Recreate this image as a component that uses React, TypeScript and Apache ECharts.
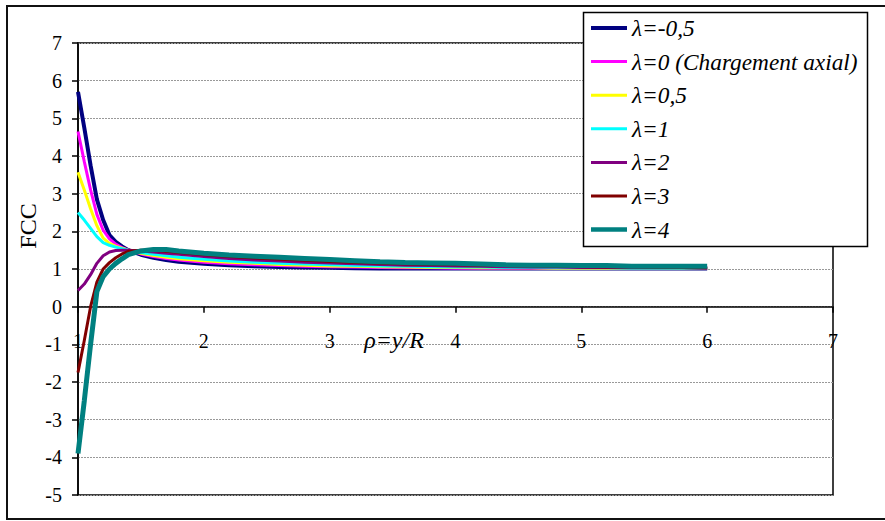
import React, { useEffect, useRef } from "react";
import * as echarts from "echarts";

const rho = [1, 1.05, 1.1, 1.15, 1.2, 1.25, 1.3, 1.35, 1.4, 1.5, 1.6, 1.7, 1.8, 2.0, 2.2, 2.4, 2.6, 2.8, 3.0, 3.2, 3.4, 3.6, 3.8, 4.0, 4.2, 4.4, 4.6, 4.8, 5.0, 5.2, 5.4, 5.6, 5.8, 6.0];

const seriesNames = [
  "λ=-0,5",
  "λ=0 (Chargement axial)",
  "λ=0,5",
  "λ=1",
  "λ=2",
  "λ=3",
  "λ=4",
];

const lamM05 = [5.7, 4.75, 3.75, 2.85, 2.3, 1.9, 1.72, 1.6, 1.5, 1.38, 1.3, 1.24, 1.19, 1.14, 1.1, 1.07, 1.05, 1.04, 1.03, 1.02, 1.01, 1.01, 1.01, 1.01, 1.01, 1.01, 1.01, 1.01, 1.01, 1.01, 1.01, 1.01, 1.01, 1.01];
const lam0 = [4.65, 3.85, 3.1, 2.45, 2.03, 1.8, 1.66, 1.57, 1.5, 1.4, 1.33, 1.28, 1.24, 1.18, 1.14, 1.11, 1.09, 1.07, 1.06, 1.05, 1.04, 1.03, 1.03, 1.02, 1.02, 1.02, 1.02, 1.01, 1.01, 1.01, 1.01, 1.01, 1.01, 1.01];
const lam05 = [3.57, 3.1, 2.6, 2.15, 1.82, 1.68, 1.6, 1.55, 1.5, 1.42, 1.36, 1.31, 1.27, 1.22, 1.18, 1.15, 1.12, 1.1, 1.08, 1.07, 1.06, 1.05, 1.04, 1.04, 1.03, 1.03, 1.03, 1.02, 1.02, 1.02, 1.02, 1.02, 1.01, 1.01];
const lam1 = [2.5, 2.3, 2.08, 1.86, 1.7, 1.63, 1.58, 1.54, 1.5, 1.44, 1.39, 1.35, 1.31, 1.26, 1.21, 1.18, 1.15, 1.13, 1.11, 1.09, 1.08, 1.07, 1.06, 1.05, 1.05, 1.04, 1.04, 1.03, 1.03, 1.03, 1.02, 1.02, 1.02, 1.02];
const lam2 = [0.43, 0.6, 0.85, 1.15, 1.35, 1.45, 1.49, 1.5, 1.5, 1.48, 1.45, 1.42, 1.39, 1.33, 1.28, 1.24, 1.21, 1.18, 1.16, 1.14, 1.12, 1.1, 1.09, 1.08, 1.07, 1.06, 1.05, 1.05, 1.04, 1.04, 1.03, 1.03, 1.03, 1.02];
const lam3 = [-1.75, -0.9, 0.0, 0.65, 1.0, 1.17, 1.3, 1.4, 1.47, 1.5, 1.49, 1.47, 1.44, 1.38, 1.33, 1.29, 1.26, 1.23, 1.2, 1.17, 1.15, 1.13, 1.12, 1.11, 1.1, 1.09, 1.08, 1.07, 1.06, 1.05, 1.05, 1.04, 1.04, 1.03];
const lam4 = [-3.9, -2.5, -1.0, 0.4, 0.8, 1.0, 1.15, 1.27, 1.38, 1.48, 1.52, 1.52, 1.48, 1.42, 1.37, 1.34, 1.31, 1.28, 1.25, 1.22, 1.19, 1.17, 1.16, 1.15, 1.13, 1.11, 1.1, 1.1, 1.09, 1.09, 1.07, 1.07, 1.07, 1.07];

const seriesValues = [lamM05, lam0, lam05, lam1, lam2, lam3, lam4];
const colors = ["#000080", "#FF00FF", "#FFFF00", "#00FFFF", "#800080", "#800000", "#008080"];
const widths = [4, 3, 3, 3, 3, 3, 5];

const xTickMin = 1;
const xTickMax = 7;
const yTickMin = -5;
const yTickMax = 7;

const FONT = "Liberation Serif";

const GRID_TOP = 43;
const GRID_BOTTOM_PX = 495;

export default function App() {
  const ref = useRef<HTMLDivElement>(null);
  useEffect(() => {
    if (!ref.current) return;
    const chart = echarts.init(ref.current, undefined, { renderer: "svg" });
    const zeroPx = GRID_TOP + ((yTickMax - 0) / (yTickMax - yTickMin)) * (GRID_BOTTOM_PX - GRID_TOP);
    const xOffset = -(GRID_BOTTOM_PX - zeroPx);
    const option: any = {
      animation: false,
      backgroundColor: "#fff",
      textStyle: { fontFamily: FONT },
      grid: {
        left: 78,
        right: 52,
        top: GRID_TOP,
        bottom: 521 - GRID_BOTTOM_PX,
        show: true,
        borderColor: "#000",
        borderWidth: 1.5,
        backgroundColor: "transparent",
      },
      xAxis: {
        type: "value",
        min: xTickMin,
        max: xTickMax,
        interval: 1,
        offset: xOffset,
        axisLine: { show: true, onZero: false, lineStyle: { color: "#000", width: 1.5 } },
        axisTick: { show: true, inside: false, length: 6, lineStyle: { color: "#000", width: 1.5 } },
        axisLabel: { margin: 24, color: "#000", fontSize: 20, fontFamily: FONT },
        splitLine: { show: false },
      },
      yAxis: {
        type: "value",
        min: yTickMin,
        max: yTickMax,
        interval: 1,
        axisLine: { show: true, onZero: false, lineStyle: { color: "#000", width: 1.5 } },
        axisTick: { show: true, inside: false, length: 6, lineStyle: { color: "#000", width: 1.5 } },
        axisLabel: { margin: 16, color: "#000", fontSize: 20, fontFamily: FONT },
        splitLine: { show: true, lineStyle: { color: "#999", type: [2, 1], width: 1 } },
      },
      legend: {
        orient: "vertical",
        left: 591,
        top: 16,
        padding: 0,
        itemWidth: 36,
        itemHeight: 12,
        itemGap: 9.6,
        z: 20,
        selectedMode: false,
        symbolKeepAspect: true,
        textStyle: {
          fontFamily: FONT,
          fontStyle: "italic",
          fontSize: 23.3,
          color: "#000",
          lineHeight: 24,
        },
        data: seriesNames.map((name, i) => ({
          name,
          icon: `path://M0,0H36V${widths[i] === 5 ? 4.5 : widths[i] === 4 ? 4 : 3}H0Z`,
          itemStyle: { color: colors[i] },
        })),
      },
      graphic: [
        {
          type: "rect",
          z: 0,
          shape: { x: 7, y: 6, width: 900, height: 513 },
          style: { fill: "none", stroke: "#111", lineWidth: 2 },
          silent: true,
        },
        {
          type: "rect",
          z: 10,
          shape: { x: 583.5, y: 12.5, width: 284, height: 234 },
          style: { fill: "#fff", stroke: "#000", lineWidth: 1.5 },
          silent: true,
        },
        {
          type: "text",
          z: 10,
          x: 28,
          y: 226,
          rotation: Math.PI / 2,
          style: {
            text: "FCC",
            font: `24px '${FONT}', serif`,
            fill: "#000",
            align: "center",
            verticalAlign: "middle",
          },
        },
        {
          type: "text",
          z: 10,
          x: 394,
          y: 340,
          style: {
            text: "ρ=y/R",
            font: `italic 24px '${FONT}', serif`,
            fill: "#000",
            align: "center",
            verticalAlign: "middle",
          },
        },
      ],
      series: seriesNames.map((name, i) => ({
        name,
        type: "line",
        symbol: "none",
        showSymbol: false,
        smooth: false,
        z: 2 + i,
        color: colors[i],
        lineStyle: { color: colors[i], width: widths[i] },
        data: rho.map((x, j) => [x, seriesValues[i][j]]),
      })),
    };
    chart.setOption(option);
    return () => chart.dispose();
  }, []);
  return (
    <div
      ref={ref}
      style={{ position: "absolute", left: 0, top: 0, width: 885, height: 521 }}
    />
  );
}
